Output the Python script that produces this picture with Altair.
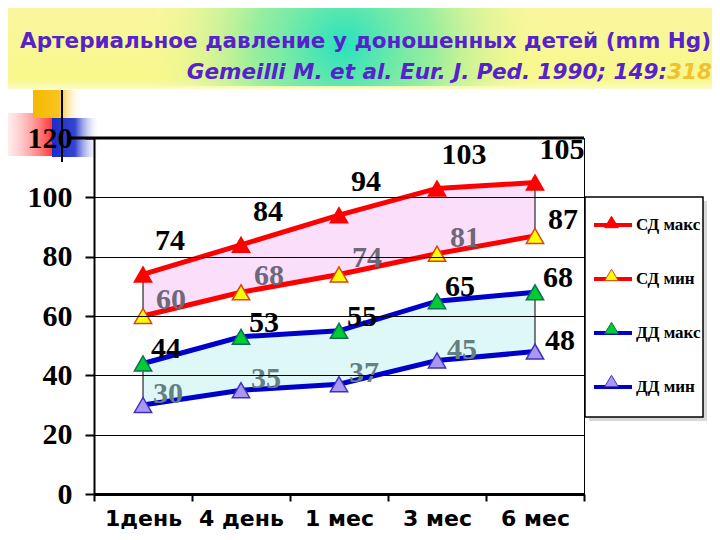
import altair as alt
import pandas as pd

# ---------------- data ----------------
categories = ["1день", "4 день", "1 мес", "3 мес", "6 мес"]
series_names = ["СД макс", "СД мин", "ДД макс", "ДД мин"]
sd_max = [74, 84, 94, 103, 105]
sd_min = [60, 68, 74, 81, 87]
dd_max = [44, 53, 55, 65, 68]
dd_min = [30, 35, 37, 45, 48]
y_ticks = [0, 20, 40, 60, 80, 100, 120]

title_text = "Артериальное давление у доношенных детей (mm Hg)"
source_text = "Gemeilli M. et al. Eur. J. Ped. 1990; 149:"
source_page = "318"

line_colors = ["#ff0000", "#ff0000", "#0000cc", "#0000cc"]
fill_colors = ["#ff0000", "#ffff00", "#00cc33", "#a898f0"]
outline_colors = ["#ff0000", "#e04010", "#107050", "#4030c0"]
label_colors = ["black", "#6e6878", "black", "#648080"]

series_values = [sd_max, sd_min, dd_max, dd_min]
long = pd.DataFrame(
    [{"series": s, "pt": s, "cat": c, "value": v}
     for s, vals in zip(series_names, series_values)
     for c, v in zip(categories, vals)]
)
wide = pd.DataFrame({"cat": categories, "sd_max": sd_max, "sd_min": sd_min,
                     "dd_max": dd_max, "dd_min": dd_min})
one = pd.DataFrame({"k": [0]})

# ---------------- scales / axes ----------------
xscale = alt.Scale(type="band", domain=categories, paddingInner=0, paddingOuter=0)
xaxis = alt.Axis(title=None, tickBand="extent", labelAngle=0, labelFont="DejaVu Sans",
                 labelFontWeight="bold", labelFontSize=22, labelColor="black",
                 labelBaseline="alphabetic",
                 tickColor="black", tickSize=7, tickWidth=2, domainColor="black",
                 domainWidth=3, labelPadding=24, grid=False)
yscale = alt.Scale(domain=[0, 120], nice=False)
yaxis = alt.Axis(values=y_ticks, title=None, grid=True, gridColor="black", gridWidth=1,
                 gridOpacity=1, domainColor="black", domainWidth=2, tickColor="black",
                 tickSize=9, tickWidth=2, labelFont="Liberation Serif", labelFontWeight="bold",
                 labelFontSize=30, labelColor="black", labelPadding=13, zindex=1)


def X():
    return alt.X("cat:N", scale=xscale, axis=xaxis, sort=categories)


def Y(field):
    return alt.Y(field, scale=yscale, axis=yaxis)


# ---------------- decorations ----------------
header = alt.Chart(one).mark_rect(color=alt.LinearGradient(
    gradient="linear", x1=0, x2=0, y1=0, y2=1,
    stops=[alt.GradientStop(offset=0, color="#f8f6a0"),
           alt.GradientStop(offset=0.9, color="#f8f88c"),
           alt.GradientStop(offset=1, color="#fbfbc8")])).encode(
    x=alt.value(-100), x2=alt.value(640), y=alt.value(-140), y2=alt.value(-49))

glow = alt.Chart(one).mark_rect(color=alt.RadialGradient(
    gradient="radial", x1=0.5, y1=0.5, r1=0, x2=0.5, y2=0.5, r2=0.5,
    stops=[alt.GradientStop(offset=0, color="rgba(40,225,190,1)"),
           alt.GradientStop(offset=0.45, color="rgba(120,235,160,0.75)"),
           alt.GradientStop(offset=1, color="rgba(248,248,140,0)")])).encode(
    x=alt.value(50), x2=alt.value(450), y=alt.value(-135), y2=alt.value(-52))

sq_yellow = alt.Chart(one).mark_rect(color=alt.LinearGradient(
    gradient="linear", x1=0, x2=1, y1=0, y2=0,
    stops=[alt.GradientStop(offset=0, color="#f5b800"),
           alt.GradientStop(offset=0.55, color="#f8c420"),
           alt.GradientStop(offset=1, color="rgba(255,240,200,0)")])).encode(
    x=alt.value(-61), x2=alt.value(-14), y=alt.value(-48), y2=alt.value(-20))

sq_red = alt.Chart(one).mark_rect(color=alt.LinearGradient(
    gradient="linear", x1=0, x2=1, y1=0, y2=0,
    stops=[alt.GradientStop(offset=0, color="rgba(255,180,180,0.25)"),
           alt.GradientStop(offset=1, color="#ff2a2a")])).encode(
    x=alt.value(-86), x2=alt.value(-40), y=alt.value(-25), y2=alt.value(18))

sq_blue = alt.Chart(one).mark_rect(color=alt.LinearGradient(
    gradient="linear", x1=0, x2=1, y1=0, y2=0,
    stops=[alt.GradientStop(offset=0, color="#1c2cc8"),
           alt.GradientStop(offset=0.5, color="#3644d0"),
           alt.GradientStop(offset=1, color="rgba(210,215,250,0)")])).encode(
    x=alt.value(-42), x2=alt.value(4), y=alt.value(-20), y2=alt.value(19))

vline = alt.Chart(one).mark_rule(color="black", strokeWidth=2).encode(
    x=alt.value(-32), y=alt.value(-48), y2=alt.value(24))

legend_shadow = alt.Chart(one).mark_rect(color="#d8d8d8").encode(
    x=alt.value(495), x2=alt.value(613), y=alt.value(63), y2=alt.value(283))
legend_frame = alt.Chart(one).mark_rect(color="white", stroke="black", strokeWidth=1.5).encode(
    x=alt.value(491), x2=alt.value(609), y=alt.value(59), y2=alt.value(279))

title_mark = alt.Chart(one).mark_text(
    text=title_text, font="DejaVu Sans", fontWeight="bold", fontSize=21.5,
    color="#5522cc", align="right", baseline="middle").encode(
    x=alt.value(617), y=alt.value(-96))

source_mark = alt.Chart(one).mark_text(
    text=source_text, font="DejaVu Sans", fontWeight="bold", fontStyle="italic",
    fontSize=21.5, color="#5522cc", align="right", baseline="middle").encode(
    x=alt.value(573), y=alt.value(-65))

page_mark = alt.Chart(one).mark_text(
    text=source_page, font="DejaVu Sans", fontWeight="bold", fontStyle="italic",
    fontSize=21.5, color="#f0c030", align="left", baseline="middle").encode(
    x=alt.value(573), y=alt.value(-65))

# ---------------- data layers ----------------
area_sd = alt.Chart(wide).mark_area(color="#f6c8f6", fillOpacity=0.6, stroke="black",
                                     strokeWidth=1).encode(
    x=X(), y=Y("sd_max:Q"), y2="sd_min:Q")
area_dd = alt.Chart(wide).mark_area(color="#c8f2f2", fillOpacity=0.6, stroke="black",
                                     strokeWidth=1).encode(
    x=X(), y=Y("dd_max:Q"), y2="dd_min:Q")

top_rule = alt.Chart(one).mark_rule(color="black", strokeWidth=3).encode(
    y=alt.Y(datum=120, scale=yscale, axis=yaxis), x=alt.value(-26), x2=alt.value(490))

legend_common = dict(title=None, orient="none", legendX=491, legendY=59,
                     direction="vertical", symbolSize=1444,
                     labelFont="Liberation Serif", labelFontWeight="bold",
                     labelFontSize=17, labelColor="black", padding=7,
                     rowPadding=25, labelOffset=2)

lines = alt.Chart(long).mark_line(strokeWidth=5).encode(
    x=X(), y=Y("value:Q"),
    stroke=alt.Stroke("series:N", scale=alt.Scale(domain=series_names, range=line_colors),
                      legend=alt.Legend(symbolType="stroke", symbolStrokeWidth=4,
                                        **legend_common)))

tri_path = "M-0.36,0.22L0,-0.38L0.36,0.22Z"
legend_pts = alt.Legend(symbolType=tri_path, symbolStrokeWidth=1, labelExpr="''",
                        **legend_common)
points = alt.Chart(long).mark_point(shape="triangle-up", filled=True, size=300,
                                    strokeWidth=1.5, opacity=1).encode(
    x=X(), y=Y("value:Q"),
    fill=alt.Fill("pt:N", scale=alt.Scale(domain=series_names, range=fill_colors),
                  legend=legend_pts),
    stroke=alt.Stroke("pt:N", scale=alt.Scale(domain=series_names, range=outline_colors),
                      legend=legend_pts))

label_offsets = [(27, -33), (28, -16), (23, -14), (25, -11)]
texts = []
for s, (dx, dy), gray in zip(series_names, label_offsets, label_colors):
    texts.append(
        alt.Chart(long).transform_filter(alt.datum.series == s).mark_text(
            dx=dx, dy=dy, font="Liberation Serif", fontWeight="bold", fontSize=30,
            align="center", baseline="middle").encode(
            x=X(), y=Y("value:Q"), text="value:Q",
            color=alt.condition(alt.datum.cat == "6 мес", alt.value("black"), alt.value(gray))))

chart = alt.layer(
    header, glow, sq_red, sq_yellow, sq_blue, vline, title_mark, source_mark, page_mark,
    legend_shadow, legend_frame,
    area_sd, area_dd, lines, points, top_rule, *texts
).resolve_scale(stroke="independent", fill="independent").properties(
    width=490, height=356,
    autosize=alt.AutoSizeParams(type="none"),
    padding={"left": 86, "top": 130, "right": 128, "bottom": 38},
    background="white",
).configure_view(stroke="black", strokeWidth=1)

chart.save("out.html", embed_options={"renderer": "svg", "actions": False})
